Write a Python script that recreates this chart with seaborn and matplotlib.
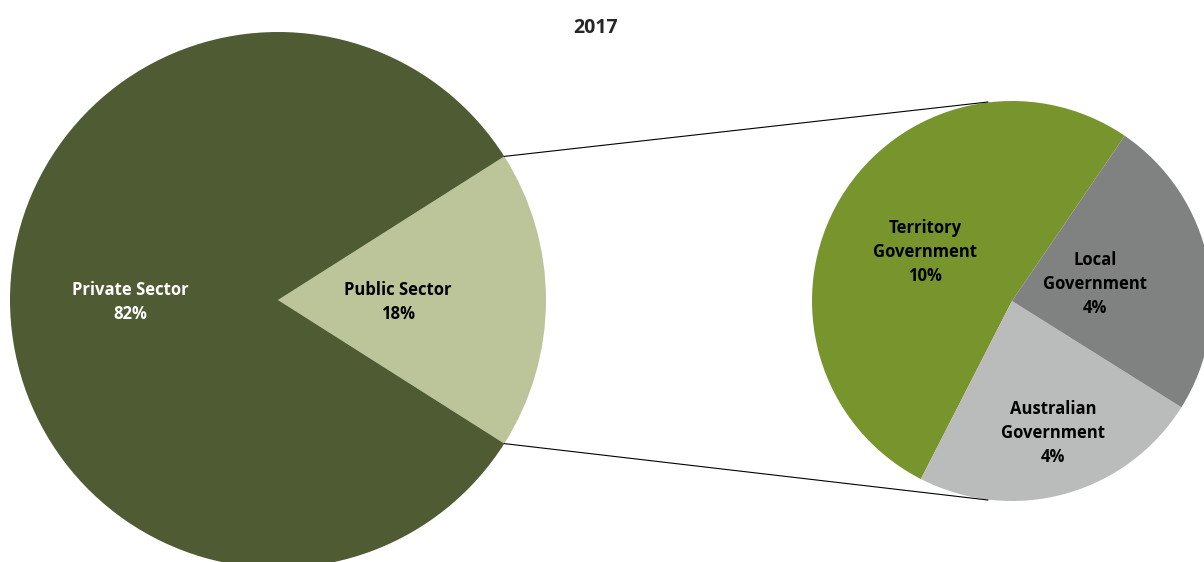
import numpy as np
import seaborn as sns
import matplotlib.pyplot as plt
from matplotlib.patches import ConnectionPatch

# data
main_labels = ['Public Sector', 'Private Sector']
main_values = [18, 82]
main_text = ['18%', '82%']
sub_labels = ['Territory\nGovernment', 'Australian\nGovernment', 'Local\nGovernment']
sub_values = [9.36, 4.25, 4.39]
sub_text = ['10%', '4%', '4%']

main_colors = ['#BCC59A', '#4F5B33']
sub_colors = ['#77952C', '#BABCBB', '#7F8280']

sns.set_theme(style='white')
plt.rcParams['font.family'] = ['Open Sans', 'DejaVu Sans']

fig = plt.figure(figsize=(12.04, 5.62), dpi=100)
ax = fig.add_axes([0, 0, 1, 1])

# big pie, public sector wedge centred on the right
c1, r1 = (278, 262), 268
half = main_values[0] / sum(main_values) * 180
ax.pie(main_values, colors=main_colors, startangle=-half,
       center=c1, radius=r1, counterclock=True,
       wedgeprops=dict(linewidth=0))

# small pie (breakdown of public sector)
c2, r2 = (1012, 261), 200
ax.pie(sub_values, colors=sub_colors, startangle=55.7,
       center=c2, radius=r2, counterclock=True,
       wedgeprops=dict(linewidth=0))
ax.set_xlim(0, 1204)
ax.set_ylim(0, 562)
ax.set_aspect('equal')
ax.axis('off')

# labels
txt_kw = dict(ha='center', va='center', fontsize=12, fontweight='bold', linespacing=1.4)
ax.text(130, 260, main_labels[1] + '\n' + main_text[1], color='white', **txt_kw)
ax.text(398, 260, main_labels[0] + '\n' + main_text[0], color='black', **txt_kw)
sub_pos = [(925, 310), (1053, 129), (1095, 278)]
for lab, t, (x, y) in zip(sub_labels, sub_text, sub_pos):
    ax.text(x, y, lab + '\n' + t, color='black', **txt_kw)

# connector lines
th = np.deg2rad(half)
for sgn in (1, -1):
    p1 = (c1[0] + r1 * np.cos(th), c1[1] + sgn * r1 * np.sin(th))
    p2 = (c2[0] - 24, c2[1] + sgn * (r2 - 1))
    ax.add_artist(ConnectionPatch(p1, p2, 'data', 'data', color='black', linewidth=0.8))

ax.text(596, 534, '2017', ha='center', va='center', fontsize=14, fontweight='bold')

plt.savefig('out.png', dpi=100)
plt.close()
